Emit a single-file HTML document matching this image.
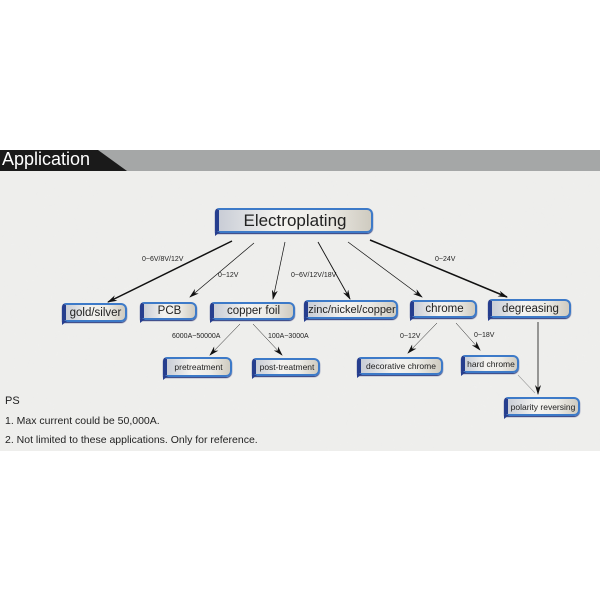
<!DOCTYPE html>
<html><head><meta charset="utf-8"><style>
body{margin:0;width:600px;height:600px;background:#fff;position:relative;overflow:hidden;font-family:"Liberation Sans",sans-serif}
.bg{position:absolute;left:0;top:171px;width:600px;height:280px;background:#eeeeec}
.b{position:absolute;box-sizing:border-box;border:2px solid #3d7ac8;border-left:4px solid #263e8e;border-radius:4px 6px 6px 2px;background:linear-gradient(90deg,#c9cdd6 0%,#f4f3f0 40%,#ecebe6 70%,#cfcbc0 100%);color:#222;display:flex;align-items:center;justify-content:center;white-space:nowrap;box-shadow:0 1px 1px #22337a}
.b:after{content:"";position:absolute;left:-4px;bottom:-5px;border-left:5px solid #263e8e;border-bottom:4px solid transparent}
.l{position:absolute;font-size:7px;color:#222;white-space:nowrap}
.t{position:absolute;font-size:11px;color:#222}
</style></head><body>
<div class="bg"></div>
<svg style="position:absolute;left:0;top:0" width="600" height="600">
<defs><filter id="n" x="0" y="0" width="100%" height="100%"><feTurbulence type="fractalNoise" baseFrequency="0.03" numOctaves="4" seed="3"/><feColorMatrix values="0 0 0 0 0.86 0 0 0 0 0.86 0 0 0 0 0.85 0 0 0 1.4 -0.65"/></filter>
<clipPath id="c"><rect x="0" y="171" width="600" height="280"/></clipPath>
<marker id="a" markerWidth="10" markerHeight="6" refX="9" refY="3" orient="auto" markerUnits="userSpaceOnUse"><path d="M0,0 L10,3 L0,6 L3,3z" fill="#111"/></marker></defs>
<rect x="0" y="171" width="600" height="280" filter="url(#n)" clip-path="url(#c)" opacity="0.6"/>
<rect x="0" y="150" width="600" height="21" fill="#a5a7a7"/>
<path d="M0,150 H98 L127,171 H0z" fill="#1a1a1a"/>
<g stroke="#111" fill="none" marker-end="url(#a)">
<line x1="232" y1="241" x2="108" y2="302" stroke-width="1.5"/>
<line x1="254" y1="243" x2="190" y2="297" stroke-width="0.7"/>
<line x1="285" y1="242" x2="273" y2="299" stroke-width="0.7"/>
<line x1="318" y1="242" x2="350" y2="299" stroke-width="0.9"/>
<line x1="348" y1="242" x2="422" y2="297" stroke-width="0.7"/>
<line x1="370" y1="240" x2="507" y2="297" stroke-width="1.5"/>
<line x1="240" y1="324" x2="210" y2="355" stroke-width="0.5"/>
<line x1="253" y1="324" x2="282" y2="355" stroke-width="0.5"/>
<line x1="437" y1="323" x2="408" y2="353" stroke-width="0.5"/>
<line x1="456" y1="323" x2="480" y2="350" stroke-width="0.5"/>
<line x1="538" y1="322" x2="538" y2="394" stroke-width="0.8"/>
</g>
<line x1="518" y1="375" x2="535" y2="393" stroke="#999" stroke-width="0.6"/>
</svg>
<div style="position:absolute;left:2px;top:149px;color:#fff;font-size:18px">Application</div>
<div class="b" style="left:215px;top:208px;width:158px;height:25px;font-size:17px">Electroplating</div>
<div class="b" style="left:62px;top:303px;width:65px;height:19px;font-size:11.5px">gold/silver</div>
<div class="b" style="left:140px;top:302px;width:57px;height:18px;font-size:11.5px">PCB</div>
<div class="b" style="left:210px;top:302px;width:85px;height:18px;font-size:11.5px">copper foil</div>
<div class="b" style="left:304px;top:300px;width:94px;height:19px;font-size:11px">zinc/nickel/copper</div>
<div class="b" style="left:410px;top:300px;width:67px;height:18px;font-size:11.5px">chrome</div>
<div class="b" style="left:488px;top:299px;width:83px;height:19px;font-size:11.5px">degreasing</div>
<div class="b" style="left:163px;top:357px;width:69px;height:20px;font-size:8.5px">pretreatment</div>
<div class="b" style="left:252px;top:358px;width:68px;height:18px;font-size:8.5px">post-treatment</div>
<div class="b" style="left:357px;top:357px;width:86px;height:18px;font-size:8.5px">decorative chrome</div>
<div class="b" style="left:461px;top:355px;width:58px;height:18px;font-size:8.5px">hard chrome</div>
<div class="b" style="left:504px;top:397px;width:76px;height:19px;font-size:8.5px">polarity reversing</div>
<div class="l" style="left:142px;top:256px">0~6V/8V/12V</div>
<div class="l" style="left:218px;top:272px">0~12V</div>
<div class="l" style="left:291px;top:272px">0~6V/12V/18V</div>
<div class="l" style="left:435px;top:256px">0~24V</div>
<div class="l" style="left:172px;top:333px">6000A~50000A</div>
<div class="l" style="left:268px;top:333px">100A~3000A</div>
<div class="l" style="left:400px;top:333px">0~12V</div>
<div class="l" style="left:474px;top:332px">0~18V</div>
<div class="t" style="left:5px;top:395px">PS</div>
<div class="t" style="left:5px;top:415px;font-size:10.5px">1. Max current could be 50,000A.</div>
<div class="t" style="left:5px;top:434px;font-size:10.5px">2. Not limited to these applications. Only for reference.</div>
</body></html>
